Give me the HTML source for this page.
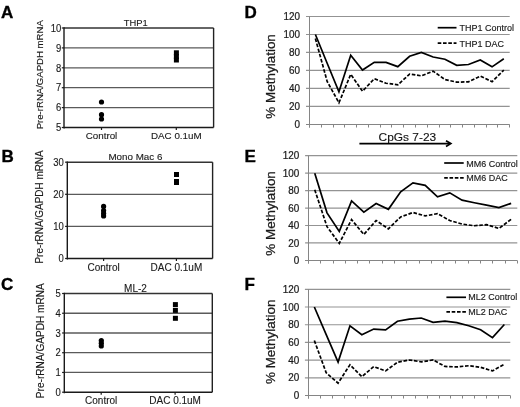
<!DOCTYPE html>
<html><head><meta charset="utf-8"><style>
html,body{margin:0;padding:0;background:#fff;width:520px;height:407px;overflow:hidden}
svg{display:block;font-family:"Liberation Sans", sans-serif;filter:blur(0.3px)}
</style></head><body>
<svg width="520" height="407" viewBox="0 0 520 407">
<rect width="520" height="407" fill="#fff"/>
<text x="1" y="17.6" font-size="17" text-anchor="start" fill="#000" font-weight="bold" stroke="#000" stroke-width="0.35">A</text>
<text x="1.5" y="161.8" font-size="17" text-anchor="start" fill="#000" font-weight="bold" stroke="#000" stroke-width="0.35">B</text>
<text x="1" y="290.2" font-size="17" text-anchor="start" fill="#000" font-weight="bold" stroke="#000" stroke-width="0.35">C</text>
<text x="244.5" y="17.8" font-size="17" text-anchor="start" fill="#000" font-weight="bold" stroke="#000" stroke-width="0.35">D</text>
<text x="244.5" y="161.8" font-size="17" text-anchor="start" fill="#000" font-weight="bold" stroke="#000" stroke-width="0.35">E</text>
<text x="244.5" y="290.2" font-size="17" text-anchor="start" fill="#000" font-weight="bold" stroke="#000" stroke-width="0.35">F</text>
<line x1="64" y1="47.9" x2="213.6" y2="47.9" stroke="#5a5a5a" stroke-width="1.3"/>
<line x1="64" y1="67.8" x2="213.6" y2="67.8" stroke="#5a5a5a" stroke-width="1.3"/>
<line x1="64" y1="87.69999999999999" x2="213.6" y2="87.69999999999999" stroke="#5a5a5a" stroke-width="1.3"/>
<line x1="64" y1="107.6" x2="213.6" y2="107.6" stroke="#5a5a5a" stroke-width="1.3"/>
<line x1="64" y1="28" x2="213.6" y2="28" stroke="#333" stroke-width="1.5"/>
<line x1="213.6" y1="28" x2="213.6" y2="127.5" stroke="#222" stroke-width="1.4"/>
<line x1="64" y1="127.5" x2="213.6" y2="127.5" stroke="#1a1a1a" stroke-width="1.5"/>
<line x1="64" y1="27.3" x2="64" y2="128.5" stroke="#1a1a1a" stroke-width="1.4"/>
<line x1="61.8" y1="28.0" x2="64" y2="28.0" stroke="#1a1a1a" stroke-width="1.2"/>
<text x="0" y="0" font-size="9.5" text-anchor="end" fill="#1a1a1a" stroke="#1a1a1a" stroke-width="0.12" transform="translate(61.3,31.70) scale(1,1.1)">10</text>
<line x1="61.8" y1="47.9" x2="64" y2="47.9" stroke="#1a1a1a" stroke-width="1.2"/>
<text x="0" y="0" font-size="9.5" text-anchor="end" fill="#1a1a1a" stroke="#1a1a1a" stroke-width="0.12" transform="translate(61.3,51.60) scale(1,1.1)">9</text>
<line x1="61.8" y1="67.8" x2="64" y2="67.8" stroke="#1a1a1a" stroke-width="1.2"/>
<text x="0" y="0" font-size="9.5" text-anchor="end" fill="#1a1a1a" stroke="#1a1a1a" stroke-width="0.12" transform="translate(61.3,71.50) scale(1,1.1)">8</text>
<line x1="61.8" y1="87.69999999999999" x2="64" y2="87.69999999999999" stroke="#1a1a1a" stroke-width="1.2"/>
<text x="0" y="0" font-size="9.5" text-anchor="end" fill="#1a1a1a" stroke="#1a1a1a" stroke-width="0.12" transform="translate(61.3,91.40) scale(1,1.1)">7</text>
<line x1="61.8" y1="107.6" x2="64" y2="107.6" stroke="#1a1a1a" stroke-width="1.2"/>
<text x="0" y="0" font-size="9.5" text-anchor="end" fill="#1a1a1a" stroke="#1a1a1a" stroke-width="0.12" transform="translate(61.3,111.30) scale(1,1.1)">6</text>
<line x1="61.8" y1="127.5" x2="64" y2="127.5" stroke="#1a1a1a" stroke-width="1.2"/>
<text x="0" y="0" font-size="9.5" text-anchor="end" fill="#1a1a1a" stroke="#1a1a1a" stroke-width="0.12" transform="translate(61.3,131.20) scale(1,1.1)">5</text>
<line x1="101.5" y1="127.5" x2="101.5" y2="130.0" stroke="#1a1a1a" stroke-width="1.2"/>
<text x="101.5" y="139.0" font-size="9.8" text-anchor="middle" fill="#1a1a1a" font-weight="normal" stroke="#1a1a1a" stroke-width="0.12">Control</text>
<line x1="176.3" y1="127.5" x2="176.3" y2="130.0" stroke="#1a1a1a" stroke-width="1.2"/>
<text x="176.3" y="139.0" font-size="9.8" text-anchor="middle" fill="#1a1a1a" font-weight="normal" stroke="#1a1a1a" stroke-width="0.12">DAC 0.1uM</text>
<text x="135.8" y="25.8" font-size="9.4" text-anchor="middle" fill="#1a1a1a" font-weight="normal" stroke="#1a1a1a" stroke-width="0.12">THP1</text>
<text x="0" y="0" font-size="9.6" text-anchor="middle" fill="#1a1a1a" stroke="#1a1a1a" stroke-width="0.15" transform="translate(43.0,74.75) rotate(-90) scale(1,1.04)">Pre-rRNA/GAPDH mRNA</text>
<circle cx="101.5" cy="102" r="2.6" fill="#000"/>
<circle cx="101.5" cy="114.7" r="2.6" fill="#000"/>
<circle cx="101.5" cy="119" r="2.6" fill="#000"/>
<rect x="173.9" y="50.3" width="5" height="5" fill="#000"/>
<rect x="173.9" y="54.0" width="5" height="5" fill="#000"/>
<rect x="173.9" y="57.5" width="5" height="5" fill="#000"/>
<line x1="67.3" y1="194.29999999999998" x2="212.6" y2="194.29999999999998" stroke="#5a5a5a" stroke-width="1.3"/>
<line x1="67.3" y1="226.39999999999998" x2="212.6" y2="226.39999999999998" stroke="#5a5a5a" stroke-width="1.3"/>
<line x1="67.3" y1="162.2" x2="212.6" y2="162.2" stroke="#333" stroke-width="1.5"/>
<line x1="212.6" y1="162.2" x2="212.6" y2="258.5" stroke="#222" stroke-width="1.4"/>
<line x1="67.3" y1="258.5" x2="212.6" y2="258.5" stroke="#1a1a1a" stroke-width="1.5"/>
<line x1="67.3" y1="161.5" x2="67.3" y2="259.5" stroke="#1a1a1a" stroke-width="1.4"/>
<line x1="65.1" y1="162.2" x2="67.3" y2="162.2" stroke="#1a1a1a" stroke-width="1.2"/>
<text x="0" y="0" font-size="9.5" text-anchor="end" fill="#1a1a1a" stroke="#1a1a1a" stroke-width="0.12" transform="translate(63.7,165.90) scale(1,1.1)">30</text>
<line x1="65.1" y1="194.29999999999998" x2="67.3" y2="194.29999999999998" stroke="#1a1a1a" stroke-width="1.2"/>
<text x="0" y="0" font-size="9.5" text-anchor="end" fill="#1a1a1a" stroke="#1a1a1a" stroke-width="0.12" transform="translate(63.7,198.00) scale(1,1.1)">20</text>
<line x1="65.1" y1="226.39999999999998" x2="67.3" y2="226.39999999999998" stroke="#1a1a1a" stroke-width="1.2"/>
<text x="0" y="0" font-size="9.5" text-anchor="end" fill="#1a1a1a" stroke="#1a1a1a" stroke-width="0.12" transform="translate(63.7,230.10) scale(1,1.1)">10</text>
<line x1="65.1" y1="258.5" x2="67.3" y2="258.5" stroke="#1a1a1a" stroke-width="1.2"/>
<text x="0" y="0" font-size="9.5" text-anchor="end" fill="#1a1a1a" stroke="#1a1a1a" stroke-width="0.12" transform="translate(63.7,262.20) scale(1,1.1)">0</text>
<line x1="103.6" y1="258.5" x2="103.6" y2="261.0" stroke="#1a1a1a" stroke-width="1.2"/>
<text x="103.6" y="271.4" font-size="10" text-anchor="middle" fill="#1a1a1a" font-weight="normal" stroke="#1a1a1a" stroke-width="0.12">Control</text>
<line x1="176.4" y1="258.5" x2="176.4" y2="261.0" stroke="#1a1a1a" stroke-width="1.2"/>
<text x="176.4" y="271.4" font-size="10" text-anchor="middle" fill="#1a1a1a" font-weight="normal" stroke="#1a1a1a" stroke-width="0.12">DAC 0.1uM</text>
<text x="135.4" y="160.1" font-size="9.8" text-anchor="middle" fill="#1a1a1a" font-weight="normal" stroke="#1a1a1a" stroke-width="0.12">Mono Mac 6</text>
<text x="0" y="0" font-size="9.95" text-anchor="middle" fill="#1a1a1a" stroke="#1a1a1a" stroke-width="0.15" transform="translate(43.1,206.95) rotate(-90) scale(1,1.04)">Pre-rRNA/GAPDH mRNA</text>
<circle cx="103.6" cy="206.4" r="2.6" fill="#000"/>
<circle cx="103.6" cy="210.5" r="2.6" fill="#000"/>
<circle cx="103.6" cy="213.3" r="2.6" fill="#000"/>
<circle cx="103.6" cy="215.9" r="2.6" fill="#000"/>
<rect x="174.0" y="172.0" width="5" height="5" fill="#000"/>
<rect x="174.0" y="179.0" width="5" height="5" fill="#000"/>
<rect x="174.0" y="180.0" width="5" height="5" fill="#000"/>
<line x1="64.3" y1="313.24" x2="212.3" y2="313.24" stroke="#5a5a5a" stroke-width="1.3"/>
<line x1="64.3" y1="332.98" x2="212.3" y2="332.98" stroke="#5a5a5a" stroke-width="1.3"/>
<line x1="64.3" y1="352.72" x2="212.3" y2="352.72" stroke="#5a5a5a" stroke-width="1.3"/>
<line x1="64.3" y1="372.46" x2="212.3" y2="372.46" stroke="#5a5a5a" stroke-width="1.3"/>
<line x1="64.3" y1="293.5" x2="212.3" y2="293.5" stroke="#333" stroke-width="1.5"/>
<line x1="212.3" y1="293.5" x2="212.3" y2="392.2" stroke="#222" stroke-width="1.4"/>
<line x1="64.3" y1="392.2" x2="212.3" y2="392.2" stroke="#1a1a1a" stroke-width="1.5"/>
<line x1="64.3" y1="292.8" x2="64.3" y2="393.2" stroke="#1a1a1a" stroke-width="1.4"/>
<line x1="62.099999999999994" y1="293.5" x2="64.3" y2="293.5" stroke="#1a1a1a" stroke-width="1.2"/>
<text x="0" y="0" font-size="9.5" text-anchor="end" fill="#1a1a1a" stroke="#1a1a1a" stroke-width="0.12" transform="translate(60.7,297.20) scale(1,1.1)">5</text>
<line x1="62.099999999999994" y1="313.24" x2="64.3" y2="313.24" stroke="#1a1a1a" stroke-width="1.2"/>
<text x="0" y="0" font-size="9.5" text-anchor="end" fill="#1a1a1a" stroke="#1a1a1a" stroke-width="0.12" transform="translate(60.7,316.94) scale(1,1.1)">4</text>
<line x1="62.099999999999994" y1="332.98" x2="64.3" y2="332.98" stroke="#1a1a1a" stroke-width="1.2"/>
<text x="0" y="0" font-size="9.5" text-anchor="end" fill="#1a1a1a" stroke="#1a1a1a" stroke-width="0.12" transform="translate(60.7,336.68) scale(1,1.1)">3</text>
<line x1="62.099999999999994" y1="352.72" x2="64.3" y2="352.72" stroke="#1a1a1a" stroke-width="1.2"/>
<text x="0" y="0" font-size="9.5" text-anchor="end" fill="#1a1a1a" stroke="#1a1a1a" stroke-width="0.12" transform="translate(60.7,356.42) scale(1,1.1)">2</text>
<line x1="62.099999999999994" y1="372.46" x2="64.3" y2="372.46" stroke="#1a1a1a" stroke-width="1.2"/>
<text x="0" y="0" font-size="9.5" text-anchor="end" fill="#1a1a1a" stroke="#1a1a1a" stroke-width="0.12" transform="translate(60.7,376.16) scale(1,1.1)">1</text>
<line x1="62.099999999999994" y1="392.2" x2="64.3" y2="392.2" stroke="#1a1a1a" stroke-width="1.2"/>
<text x="0" y="0" font-size="9.5" text-anchor="end" fill="#1a1a1a" stroke="#1a1a1a" stroke-width="0.12" transform="translate(60.7,395.90) scale(1,1.1)">0</text>
<line x1="101.2" y1="392.2" x2="101.2" y2="394.7" stroke="#1a1a1a" stroke-width="1.2"/>
<text x="101.2" y="404.1" font-size="10" text-anchor="middle" fill="#1a1a1a" font-weight="normal" stroke="#1a1a1a" stroke-width="0.12">Control</text>
<line x1="175.1" y1="392.2" x2="175.1" y2="394.7" stroke="#1a1a1a" stroke-width="1.2"/>
<text x="175.1" y="404.1" font-size="10" text-anchor="middle" fill="#1a1a1a" font-weight="normal" stroke="#1a1a1a" stroke-width="0.12">DAC 0.1uM</text>
<text x="135.5" y="291.6" font-size="10" text-anchor="middle" fill="#1a1a1a" font-weight="normal" stroke="#1a1a1a" stroke-width="0.12">ML-2</text>
<text x="0" y="0" font-size="10.1" text-anchor="middle" fill="#1a1a1a" stroke="#1a1a1a" stroke-width="0.15" transform="translate(43.5,340.65) rotate(-90) scale(1,1.04)">Pre-rRNA/GAPDH mRNA</text>
<circle cx="101.3" cy="340.6" r="2.6" fill="#000"/>
<circle cx="101.3" cy="343.2" r="2.6" fill="#000"/>
<circle cx="101.3" cy="346" r="2.6" fill="#000"/>
<rect x="172.9" y="302.1" width="5" height="5" fill="#000"/>
<rect x="172.9" y="307.9" width="5" height="5" fill="#000"/>
<rect x="172.9" y="315.8" width="5" height="5" fill="#000"/>
<line x1="306.0" y1="106.41666666666667" x2="509.7" y2="106.41666666666667" stroke="#939393" stroke-width="1.2"/>
<line x1="306.0" y1="88.43333333333334" x2="509.7" y2="88.43333333333334" stroke="#939393" stroke-width="1.2"/>
<line x1="306.0" y1="70.45" x2="509.7" y2="70.45" stroke="#939393" stroke-width="1.2"/>
<line x1="306.0" y1="52.46666666666667" x2="509.7" y2="52.46666666666667" stroke="#939393" stroke-width="1.2"/>
<line x1="306.0" y1="34.483333333333334" x2="509.7" y2="34.483333333333334" stroke="#939393" stroke-width="1.2"/>
<line x1="306.0" y1="16.5" x2="509.7" y2="16.5" stroke="#939393" stroke-width="1.2"/>
<line x1="309.5" y1="16.5" x2="309.5" y2="127.5" stroke="#858585" stroke-width="1"/>
<line x1="306.0" y1="124.5" x2="509.7" y2="124.5" stroke="#858585" stroke-width="1"/>
<line x1="309.5" y1="124.5" x2="309.5" y2="127.5" stroke="#858585" stroke-width="1"/>
<line x1="321.5" y1="124.5" x2="321.5" y2="127.5" stroke="#858585" stroke-width="1"/>
<line x1="333.5" y1="124.5" x2="333.5" y2="127.5" stroke="#858585" stroke-width="1"/>
<line x1="344.5" y1="124.5" x2="344.5" y2="127.5" stroke="#858585" stroke-width="1"/>
<line x1="356.5" y1="124.5" x2="356.5" y2="127.5" stroke="#858585" stroke-width="1"/>
<line x1="368.5" y1="124.5" x2="368.5" y2="127.5" stroke="#858585" stroke-width="1"/>
<line x1="380.5" y1="124.5" x2="380.5" y2="127.5" stroke="#858585" stroke-width="1"/>
<line x1="391.5" y1="124.5" x2="391.5" y2="127.5" stroke="#858585" stroke-width="1"/>
<line x1="403.5" y1="124.5" x2="403.5" y2="127.5" stroke="#858585" stroke-width="1"/>
<line x1="415.5" y1="124.5" x2="415.5" y2="127.5" stroke="#858585" stroke-width="1"/>
<line x1="427.5" y1="124.5" x2="427.5" y2="127.5" stroke="#858585" stroke-width="1"/>
<line x1="439.5" y1="124.5" x2="439.5" y2="127.5" stroke="#858585" stroke-width="1"/>
<line x1="450.5" y1="124.5" x2="450.5" y2="127.5" stroke="#858585" stroke-width="1"/>
<line x1="462.5" y1="124.5" x2="462.5" y2="127.5" stroke="#858585" stroke-width="1"/>
<line x1="474.5" y1="124.5" x2="474.5" y2="127.5" stroke="#858585" stroke-width="1"/>
<line x1="486.5" y1="124.5" x2="486.5" y2="127.5" stroke="#858585" stroke-width="1"/>
<line x1="497.5" y1="124.5" x2="497.5" y2="127.5" stroke="#858585" stroke-width="1"/>
<line x1="509.5" y1="124.5" x2="509.5" y2="127.5" stroke="#858585" stroke-width="1"/>
<text x="0" y="0" font-size="9.9" text-anchor="end" fill="#1a1a1a" stroke="#1a1a1a" stroke-width="0.22" transform="translate(300.0,128.00) scale(1,1.13)">0</text>
<text x="0" y="0" font-size="9.9" text-anchor="end" fill="#1a1a1a" stroke="#1a1a1a" stroke-width="0.22" transform="translate(300.0,110.02) scale(1,1.13)">20</text>
<text x="0" y="0" font-size="9.9" text-anchor="end" fill="#1a1a1a" stroke="#1a1a1a" stroke-width="0.22" transform="translate(300.0,92.03) scale(1,1.13)">40</text>
<text x="0" y="0" font-size="9.9" text-anchor="end" fill="#1a1a1a" stroke="#1a1a1a" stroke-width="0.22" transform="translate(300.0,74.05) scale(1,1.13)">60</text>
<text x="0" y="0" font-size="9.9" text-anchor="end" fill="#1a1a1a" stroke="#1a1a1a" stroke-width="0.22" transform="translate(300.0,56.07) scale(1,1.13)">80</text>
<text x="0" y="0" font-size="9.9" text-anchor="end" fill="#1a1a1a" stroke="#1a1a1a" stroke-width="0.22" transform="translate(300.0,38.08) scale(1,1.13)">100</text>
<text x="0" y="0" font-size="9.9" text-anchor="end" fill="#1a1a1a" stroke="#1a1a1a" stroke-width="0.22" transform="translate(300.0,20.10) scale(1,1.13)">120</text>
<text x="0" y="0" font-size="12.9" text-anchor="middle" fill="#1a1a1a" stroke="#1a1a1a" stroke-width="0.25" textLength="84.5" lengthAdjust="spacingAndGlyphs" transform="translate(274.6,76.4) rotate(-90)">% Methylation</text>
<polyline points="315.39,34.48 327.16,63.26 338.94,91.85 350.72,55.16 362.49,70.00 374.27,62.36 386.05,62.36 397.82,66.67 409.60,56.24 421.38,52.47 433.15,56.96 444.93,59.21 456.71,65.32 468.48,64.52 480.26,59.93 492.04,66.85 503.81,58.76" fill="none" stroke="#000" stroke-width="1.7" stroke-linejoin="miter"/>
<polyline points="315.39,38.53 327.16,81.42 338.94,102.82 350.72,74.32 362.49,91.22 374.27,78.72 386.05,83.22 397.82,84.84 409.60,74.05 421.38,75.84 433.15,71.17 444.93,79.53 456.71,82.14 468.48,81.87 480.26,76.11 492.04,81.69 503.81,70.09" fill="none" stroke="#000" stroke-width="1.7" stroke-dasharray="3.6,1.7" stroke-linejoin="miter"/>
<line x1="437.7" y1="27.7" x2="456.5" y2="27.7" stroke="#000" stroke-width="1.7"/>
<line x1="437.7" y1="43.2" x2="456.5" y2="43.2" stroke="#000" stroke-width="1.7" stroke-dasharray="3.6,1.7"/>
<text x="0" y="0" font-size="9.0" fill="#1a1a1a" stroke="#1a1a1a" stroke-width="0.15" transform="translate(459.6,30.8) scale(1,1.1)">THP1 Control</text>
<text x="0" y="0" font-size="9.0" fill="#1a1a1a" stroke="#1a1a1a" stroke-width="0.15" transform="translate(459.6,46.6) scale(1,1.1)">THP1 DAC</text>
<line x1="305.1" y1="242.95" x2="517.3" y2="242.95" stroke="#939393" stroke-width="1.2"/>
<line x1="305.1" y1="225.49999999999997" x2="517.3" y2="225.49999999999997" stroke="#939393" stroke-width="1.2"/>
<line x1="305.1" y1="208.04999999999998" x2="517.3" y2="208.04999999999998" stroke="#939393" stroke-width="1.2"/>
<line x1="305.1" y1="190.59999999999997" x2="517.3" y2="190.59999999999997" stroke="#939393" stroke-width="1.2"/>
<line x1="305.1" y1="173.14999999999998" x2="517.3" y2="173.14999999999998" stroke="#939393" stroke-width="1.2"/>
<line x1="305.1" y1="155.7" x2="517.3" y2="155.7" stroke="#939393" stroke-width="1.2"/>
<line x1="308.5" y1="155.7" x2="308.5" y2="263.5" stroke="#858585" stroke-width="1"/>
<line x1="305.0" y1="260.5" x2="517.3" y2="260.5" stroke="#858585" stroke-width="1"/>
<line x1="308.5" y1="260.5" x2="308.5" y2="263.5" stroke="#858585" stroke-width="1"/>
<line x1="320.5" y1="260.5" x2="320.5" y2="263.5" stroke="#858585" stroke-width="1"/>
<line x1="333.5" y1="260.5" x2="333.5" y2="263.5" stroke="#858585" stroke-width="1"/>
<line x1="345.5" y1="260.5" x2="345.5" y2="263.5" stroke="#858585" stroke-width="1"/>
<line x1="357.5" y1="260.5" x2="357.5" y2="263.5" stroke="#858585" stroke-width="1"/>
<line x1="369.5" y1="260.5" x2="369.5" y2="263.5" stroke="#858585" stroke-width="1"/>
<line x1="382.5" y1="260.5" x2="382.5" y2="263.5" stroke="#858585" stroke-width="1"/>
<line x1="394.5" y1="260.5" x2="394.5" y2="263.5" stroke="#858585" stroke-width="1"/>
<line x1="406.5" y1="260.5" x2="406.5" y2="263.5" stroke="#858585" stroke-width="1"/>
<line x1="419.5" y1="260.5" x2="419.5" y2="263.5" stroke="#858585" stroke-width="1"/>
<line x1="431.5" y1="260.5" x2="431.5" y2="263.5" stroke="#858585" stroke-width="1"/>
<line x1="443.5" y1="260.5" x2="443.5" y2="263.5" stroke="#858585" stroke-width="1"/>
<line x1="455.5" y1="260.5" x2="455.5" y2="263.5" stroke="#858585" stroke-width="1"/>
<line x1="468.5" y1="260.5" x2="468.5" y2="263.5" stroke="#858585" stroke-width="1"/>
<line x1="480.5" y1="260.5" x2="480.5" y2="263.5" stroke="#858585" stroke-width="1"/>
<line x1="492.5" y1="260.5" x2="492.5" y2="263.5" stroke="#858585" stroke-width="1"/>
<line x1="505.5" y1="260.5" x2="505.5" y2="263.5" stroke="#858585" stroke-width="1"/>
<line x1="517.5" y1="260.5" x2="517.5" y2="263.5" stroke="#858585" stroke-width="1"/>
<text x="0" y="0" font-size="9.9" text-anchor="end" fill="#1a1a1a" stroke="#1a1a1a" stroke-width="0.22" transform="translate(299.2,264.00) scale(1,1.13)">0</text>
<text x="0" y="0" font-size="9.9" text-anchor="end" fill="#1a1a1a" stroke="#1a1a1a" stroke-width="0.22" transform="translate(299.2,246.55) scale(1,1.13)">20</text>
<text x="0" y="0" font-size="9.9" text-anchor="end" fill="#1a1a1a" stroke="#1a1a1a" stroke-width="0.22" transform="translate(299.2,229.10) scale(1,1.13)">40</text>
<text x="0" y="0" font-size="9.9" text-anchor="end" fill="#1a1a1a" stroke="#1a1a1a" stroke-width="0.22" transform="translate(299.2,211.65) scale(1,1.13)">60</text>
<text x="0" y="0" font-size="9.9" text-anchor="end" fill="#1a1a1a" stroke="#1a1a1a" stroke-width="0.22" transform="translate(299.2,194.20) scale(1,1.13)">80</text>
<text x="0" y="0" font-size="9.9" text-anchor="end" fill="#1a1a1a" stroke="#1a1a1a" stroke-width="0.22" transform="translate(299.2,176.75) scale(1,1.13)">100</text>
<text x="0" y="0" font-size="9.9" text-anchor="end" fill="#1a1a1a" stroke="#1a1a1a" stroke-width="0.22" transform="translate(299.2,159.30) scale(1,1.13)">120</text>
<text x="0" y="0" font-size="12.9" text-anchor="middle" fill="#1a1a1a" stroke="#1a1a1a" stroke-width="0.25" textLength="84.5" lengthAdjust="spacingAndGlyphs" transform="translate(274.6,213.4) rotate(-90)">% Methylation</text>
<polyline points="314.74,173.15 327.01,212.85 339.29,231.43 351.57,200.98 363.84,212.15 376.12,203.51 388.40,209.36 400.67,191.73 412.95,182.83 425.23,185.36 437.50,196.79 449.78,192.87 462.06,200.20 474.33,202.73 486.61,205.17 498.89,207.53 511.16,203.34" fill="none" stroke="#000" stroke-width="1.7" stroke-linejoin="miter"/>
<polyline points="314.74,189.73 327.01,226.72 339.29,243.30 351.57,219.65 363.84,234.49 376.12,220.53 388.40,228.82 400.67,216.95 412.95,212.50 425.23,215.90 437.50,213.63 449.78,220.53 462.06,224.02 474.33,225.76 486.61,224.63 498.89,228.47 511.16,219.31" fill="none" stroke="#000" stroke-width="1.7" stroke-dasharray="3.6,1.7" stroke-linejoin="miter"/>
<line x1="444.2" y1="163.0" x2="463.7" y2="163.0" stroke="#000" stroke-width="1.7"/>
<line x1="444.2" y1="177.9" x2="463.7" y2="177.9" stroke="#000" stroke-width="1.7" stroke-dasharray="3.6,1.7"/>
<text x="0" y="0" font-size="9.0" fill="#1a1a1a" stroke="#1a1a1a" stroke-width="0.15" transform="translate(466.3,166.5) scale(1,1.1)">MM6 Control</text>
<text x="0" y="0" font-size="9.0" fill="#1a1a1a" stroke="#1a1a1a" stroke-width="0.15" transform="translate(466.3,181.0) scale(1,1.1)">MM6 DAC</text>
<line x1="304.9" y1="377.8833333333333" x2="510.3" y2="377.8833333333333" stroke="#939393" stroke-width="1.2"/>
<line x1="304.9" y1="360.1666666666667" x2="510.3" y2="360.1666666666667" stroke="#939393" stroke-width="1.2"/>
<line x1="304.9" y1="342.45000000000005" x2="510.3" y2="342.45000000000005" stroke="#939393" stroke-width="1.2"/>
<line x1="304.9" y1="324.73333333333335" x2="510.3" y2="324.73333333333335" stroke="#939393" stroke-width="1.2"/>
<line x1="304.9" y1="307.01666666666665" x2="510.3" y2="307.01666666666665" stroke="#939393" stroke-width="1.2"/>
<line x1="304.9" y1="289.3" x2="510.3" y2="289.3" stroke="#939393" stroke-width="1.2"/>
<line x1="308.5" y1="289.3" x2="308.5" y2="398.5" stroke="#858585" stroke-width="1"/>
<line x1="305.0" y1="395.5" x2="510.3" y2="395.5" stroke="#858585" stroke-width="1"/>
<line x1="308.5" y1="395.5" x2="308.5" y2="398.5" stroke="#858585" stroke-width="1"/>
<line x1="320.5" y1="395.5" x2="320.5" y2="398.5" stroke="#858585" stroke-width="1"/>
<line x1="332.5" y1="395.5" x2="332.5" y2="398.5" stroke="#858585" stroke-width="1"/>
<line x1="344.5" y1="395.5" x2="344.5" y2="398.5" stroke="#858585" stroke-width="1"/>
<line x1="355.5" y1="395.5" x2="355.5" y2="398.5" stroke="#858585" stroke-width="1"/>
<line x1="367.5" y1="395.5" x2="367.5" y2="398.5" stroke="#858585" stroke-width="1"/>
<line x1="379.5" y1="395.5" x2="379.5" y2="398.5" stroke="#858585" stroke-width="1"/>
<line x1="391.5" y1="395.5" x2="391.5" y2="398.5" stroke="#858585" stroke-width="1"/>
<line x1="403.5" y1="395.5" x2="403.5" y2="398.5" stroke="#858585" stroke-width="1"/>
<line x1="415.5" y1="395.5" x2="415.5" y2="398.5" stroke="#858585" stroke-width="1"/>
<line x1="427.5" y1="395.5" x2="427.5" y2="398.5" stroke="#858585" stroke-width="1"/>
<line x1="439.5" y1="395.5" x2="439.5" y2="398.5" stroke="#858585" stroke-width="1"/>
<line x1="450.5" y1="395.5" x2="450.5" y2="398.5" stroke="#858585" stroke-width="1"/>
<line x1="462.5" y1="395.5" x2="462.5" y2="398.5" stroke="#858585" stroke-width="1"/>
<line x1="474.5" y1="395.5" x2="474.5" y2="398.5" stroke="#858585" stroke-width="1"/>
<line x1="486.5" y1="395.5" x2="486.5" y2="398.5" stroke="#858585" stroke-width="1"/>
<line x1="498.5" y1="395.5" x2="498.5" y2="398.5" stroke="#858585" stroke-width="1"/>
<line x1="510.5" y1="395.5" x2="510.5" y2="398.5" stroke="#858585" stroke-width="1"/>
<text x="0" y="0" font-size="9.9" text-anchor="end" fill="#1a1a1a" stroke="#1a1a1a" stroke-width="0.22" transform="translate(299.2,399.20) scale(1,1.13)">0</text>
<text x="0" y="0" font-size="9.9" text-anchor="end" fill="#1a1a1a" stroke="#1a1a1a" stroke-width="0.22" transform="translate(299.2,381.48) scale(1,1.13)">20</text>
<text x="0" y="0" font-size="9.9" text-anchor="end" fill="#1a1a1a" stroke="#1a1a1a" stroke-width="0.22" transform="translate(299.2,363.77) scale(1,1.13)">40</text>
<text x="0" y="0" font-size="9.9" text-anchor="end" fill="#1a1a1a" stroke="#1a1a1a" stroke-width="0.22" transform="translate(299.2,346.05) scale(1,1.13)">60</text>
<text x="0" y="0" font-size="9.9" text-anchor="end" fill="#1a1a1a" stroke="#1a1a1a" stroke-width="0.22" transform="translate(299.2,328.33) scale(1,1.13)">80</text>
<text x="0" y="0" font-size="9.9" text-anchor="end" fill="#1a1a1a" stroke="#1a1a1a" stroke-width="0.22" transform="translate(299.2,310.62) scale(1,1.13)">100</text>
<text x="0" y="0" font-size="9.9" text-anchor="end" fill="#1a1a1a" stroke="#1a1a1a" stroke-width="0.22" transform="translate(299.2,292.90) scale(1,1.13)">120</text>
<text x="0" y="0" font-size="12.9" text-anchor="middle" fill="#1a1a1a" stroke="#1a1a1a" stroke-width="0.25" textLength="84.5" lengthAdjust="spacingAndGlyphs" transform="translate(274.6,341.8) rotate(-90)">% Methylation</text>
<polyline points="314.34,307.02 326.21,334.65 338.09,362.12 349.97,325.80 361.84,334.65 373.72,329.07 385.60,329.96 397.47,321.28 409.35,319.06 421.23,318.00 433.10,322.34 444.98,321.10 456.86,322.70 468.73,325.71 480.61,329.78 492.49,337.67 504.36,324.47" fill="none" stroke="#000" stroke-width="1.7" stroke-linejoin="miter"/>
<polyline points="314.34,340.50 326.21,372.83 338.09,383.11 349.97,364.77 361.84,376.64 373.72,366.63 385.60,370.89 397.47,362.20 409.35,359.99 421.23,361.85 433.10,359.99 444.98,366.46 456.86,366.90 468.73,365.75 480.61,367.34 492.49,370.89 504.36,364.15" fill="none" stroke="#000" stroke-width="1.7" stroke-dasharray="3.6,1.7" stroke-linejoin="miter"/>
<line x1="446.4" y1="297.3" x2="466.0" y2="297.3" stroke="#000" stroke-width="1.7"/>
<line x1="446.4" y1="311.8" x2="466.0" y2="311.8" stroke="#000" stroke-width="1.7" stroke-dasharray="3.6,1.7"/>
<text x="0" y="0" font-size="9.0" fill="#1a1a1a" stroke="#1a1a1a" stroke-width="0.15" transform="translate(468.3,300.4) scale(1,1.1)">ML2 Control</text>
<text x="0" y="0" font-size="9.0" fill="#1a1a1a" stroke="#1a1a1a" stroke-width="0.15" transform="translate(468.3,314.5) scale(1,1.1)">ML2 DAC</text>
<text x="407.4" y="141.0" font-size="11.4" text-anchor="middle" fill="#111" font-weight="normal" stroke="#111" stroke-width="0.12" textLength="57.6" lengthAdjust="spacingAndGlyphs">CpGs 7-23</text>
<line x1="359.4" y1="143.6" x2="450.0" y2="143.6" stroke="#000" stroke-width="1.8"/>
<polyline points="446.0,140.8 450.8,143.6 446.0,146.4" fill="none" stroke="#000" stroke-width="1.7"/>
</svg>
</body></html>
